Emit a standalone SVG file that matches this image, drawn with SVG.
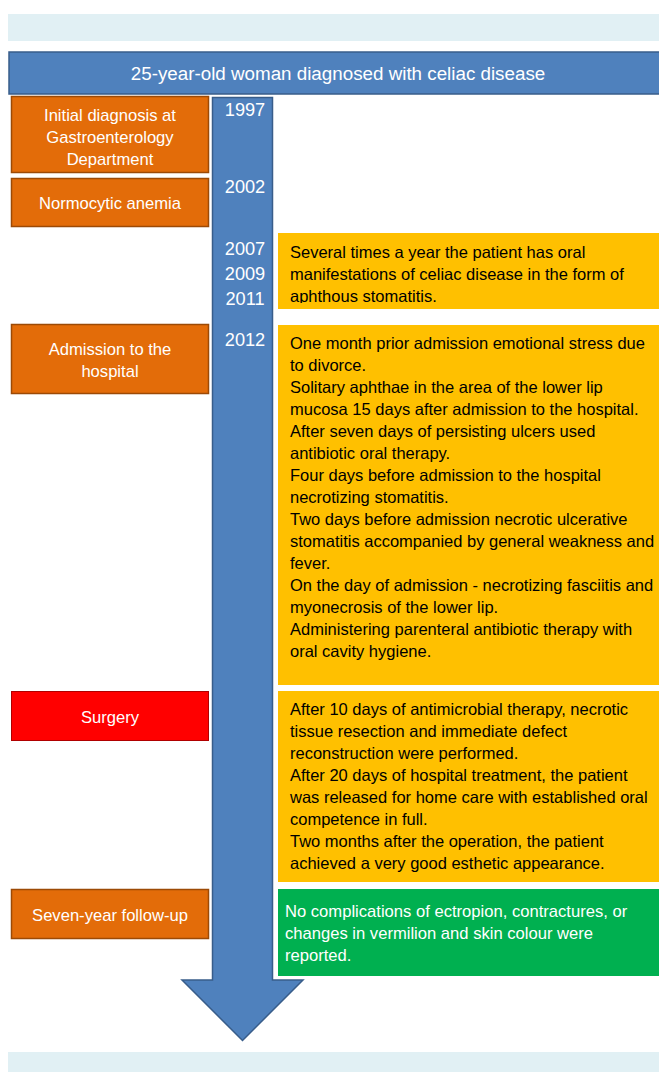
<svg xmlns="http://www.w3.org/2000/svg" width="659" height="1072" viewBox="0 0 659 1072">
<style>
.band{fill:#E1F0F4}
.org{fill:#E36C09;stroke:#9C4A06;stroke-width:1.5}
.red{fill:#FF0000;stroke:#B00000;stroke-width:1}
.yel{fill:#FFC000}
.grn{fill:#00B050}
.wt{font-family:"Liberation Sans",Arial,sans-serif;font-size:16.6px;fill:#FFFFFF}
.ctr{text-anchor:middle}
.bk{font-family:"Liberation Sans",Arial,sans-serif;font-size:16.5px;fill:#000000}
.yr{font-family:"Liberation Sans",Arial,sans-serif;font-size:18.2px;fill:#FFFFFF;text-anchor:middle}
</style>
<rect width="659" height="1072" fill="#FFFFFF"/>
<rect class="band" x="8" y="14" width="651" height="27"/>
<rect class="band" x="8" y="1052" width="651" height="20"/>

<g id="title">
<rect x="9" y="52" width="660" height="42" fill="#4F81BD" stroke="#385D8A" stroke-width="1.5"/>
<text class="wt ctr" x="338" y="80" style="font-size:18.8px">25-year-old woman diagnosed with celiac disease</text>
</g>

<g id="connectors">
<path d="M212.5,97.5 H272.5 V980 H303 L242.5,1040.5 L182,980 H212.5 Z" fill="#4F81BD" stroke="#385D8A" stroke-width="1.5"/>
</g>

<g id="years">
<text class="yr" x="245" y="116">1997</text>
<text class="yr" x="245" y="193">2002</text>
<text class="yr" x="245" y="255">2007</text>
<text class="yr" x="245" y="280">2009</text>
<text class="yr" x="245" y="305">2011</text>
<text class="yr" x="245" y="346">2012</text>
</g>

<g id="node-initial">
<rect class="org" x="11.5" y="96.5" width="197" height="76"/>
<text class="wt ctr" x="110" y="121">Initial diagnosis at</text>
<text class="wt ctr" x="110" y="143">Gastroenterology</text>
<text class="wt ctr" x="110" y="165">Department</text>
</g>

<g id="node-anemia">
<rect class="org" x="11.5" y="178.5" width="197" height="48"/>
<text class="wt ctr" x="110" y="209">Normocytic anemia</text>
</g>

<g id="node-admission">
<rect class="org" x="11.5" y="324.5" width="197" height="69"/>
<text class="wt ctr" x="110" y="355">Admission to the</text>
<text class="wt ctr" x="110" y="377">hospital</text>
</g>

<g id="node-surgery">
<rect class="red" x="11.5" y="691.5" width="197" height="49"/>
<text class="wt ctr" x="110" y="723">Surgery</text>
</g>

<g id="node-followup">
<rect class="org" x="11.5" y="889.5" width="197" height="49"/>
<text class="wt ctr" x="110" y="921">Seven-year follow-up</text>
</g>

<g id="node-oral">
<clipPath id="c1"><rect x="278" y="233" width="381" height="70"/></clipPath>
<rect class="yel" x="278" y="233" width="381" height="76"/>
<g clip-path="url(#c1)">
<text class="bk" x="290" y="258">Several times a year the patient has oral</text>
<text class="bk" x="290" y="280">manifestations of celiac disease in the form of</text>
<text class="bk" x="290" y="302">aphthous stomatitis.</text>
</g>
</g>

<g id="node-admission-details">
<rect class="yel" x="278" y="325" width="381" height="360"/>
<text class="bk" x="290" y="349">One month prior admission emotional stress due</text>
<text class="bk" x="290" y="371">to divorce.</text>
<text class="bk" x="290" y="393">Solitary aphthae in the area of the lower lip</text>
<text class="bk" x="290" y="415">mucosa 15 days after admission to the hospital.</text>
<text class="bk" x="290" y="437">After seven days of persisting ulcers used</text>
<text class="bk" x="290" y="459">antibiotic oral therapy.</text>
<text class="bk" x="290" y="481">Four days before admission to the hospital</text>
<text class="bk" x="290" y="503">necrotizing stomatitis.</text>
<text class="bk" x="290" y="525">Two days before admission necrotic ulcerative</text>
<text class="bk" x="290" y="547">stomatitis accompanied by general weakness and</text>
<text class="bk" x="290" y="569">fever.</text>
<text class="bk" x="290" y="591">On the day of admission - necrotizing fasciitis and</text>
<text class="bk" x="290" y="613">myonecrosis of the lower lip.</text>
<text class="bk" x="290" y="635">Administering parenteral antibiotic therapy with</text>
<text class="bk" x="290" y="657">oral cavity hygiene.</text>
</g>

<g id="node-surgery-details">
<rect class="yel" x="278" y="691" width="381" height="191"/>
<text class="bk" x="290" y="715">After 10 days of antimicrobial therapy, necrotic</text>
<text class="bk" x="290" y="737">tissue resection and immediate defect</text>
<text class="bk" x="290" y="759">reconstruction were performed.</text>
<text class="bk" x="290" y="781">After 20 days of hospital treatment, the patient</text>
<text class="bk" x="290" y="803">was released for home care with established oral</text>
<text class="bk" x="290" y="825">competence in full.</text>
<text class="bk" x="290" y="847">Two months after the operation, the patient</text>
<text class="bk" x="290" y="869">achieved a very good esthetic appearance.</text>
</g>

<g id="node-followup-details">
<rect class="grn" x="278" y="889" width="381" height="87"/>
<text class="wt" x="285" y="917">No complications of ectropion, contractures, or</text>
<text class="wt" x="285" y="939">changes in vermilion and skin colour were</text>
<text class="wt" x="285" y="961">reported.</text>
</g>
</svg>
